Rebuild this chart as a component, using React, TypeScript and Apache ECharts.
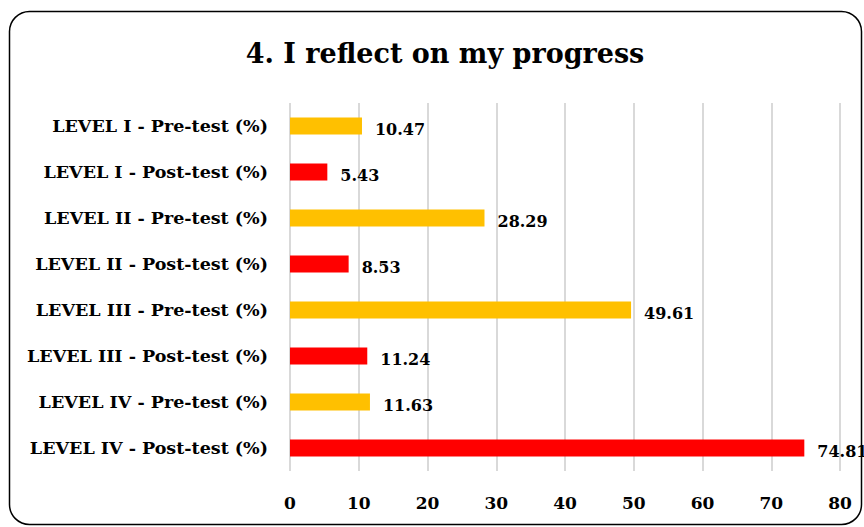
import React, { useEffect, useRef } from "react";
import * as echarts from "echarts";

const categories = [
  "LEVEL I - Pre-test (%)",
  "LEVEL I - Post-test (%)",
  "LEVEL II - Pre-test (%)",
  "LEVEL II - Post-test (%)",
  "LEVEL III - Pre-test (%)",
  "LEVEL III - Post-test (%)",
  "LEVEL IV - Pre-test (%)",
  "LEVEL IV - Post-test (%)",
];
const values = [10.47, 5.43, 28.29, 8.53, 49.61, 11.24, 11.63, 74.81];
const colors = ["#FFC000", "#FF0000", "#FFC000", "#FF0000", "#FFC000", "#FF0000", "#FFC000", "#FF0000"];
const title = "4. I reflect on my progress";

const FONT = "'DejaVu Serif', serif";

export default function App() {
  const ref = useRef<HTMLDivElement>(null);
  useEffect(() => {
    const chart = echarts.init(ref.current!, null, { renderer: "svg" });
    chart.setOption({
      animation: false,
      backgroundColor: "#fff",
      title: {
        text: title,
        left: 440,
        textAlign: "center",
        top: 35,
        textStyle: { fontFamily: FONT, fontWeight: "bold", fontSize: 27, color: "#000" },
      },
      graphic: [
        {
          type: "rect",
          shape: { x: 9.5, y: 11.5, width: 852, height: 513, r: 20 },
          style: { fill: "none", stroke: "#000", lineWidth: 1.5 },
          silent: true,
        },
      ],
      grid: { left: 290, top: 103, width: 550, height: 368, containLabel: false },
      xAxis: {
        type: "value",
        min: 0,
        max: 80,
        interval: 10,
        axisLine: { show: false },
        axisTick: { show: false },
        splitLine: { show: true, lineStyle: { color: "#D9D9D9", width: 2 } },
        axisLabel: { fontFamily: FONT, fontWeight: "bold", fontSize: 17, color: "#000", margin: 23 },
      },
      yAxis: {
        type: "category",
        data: categories,
        inverse: true,
        axisLine: { show: false },
        axisTick: { show: false },
        axisLabel: { fontFamily: FONT, fontWeight: "bold", fontSize: 17.5, color: "#000", margin: 22 },
      },
      series: [
        {
          type: "bar",
          data: values.map((v, i) => ({ value: v, itemStyle: { color: colors[i] } })),
          barWidth: 17,
          label: {
            show: true,
            position: "right",
            distance: 13,
            offset: [0, 3],
            fontFamily: FONT,
            fontWeight: "bold",
            fontSize: 16,
            color: "#000",
            formatter: (p: any) => p.value.toFixed(2),
          },
        },
      ],
    });
    return () => chart.dispose();
  }, []);
  return <div ref={ref} style={{ position: "fixed", left: 0, top: 0, width: 864, height: 527 }} />;
}
